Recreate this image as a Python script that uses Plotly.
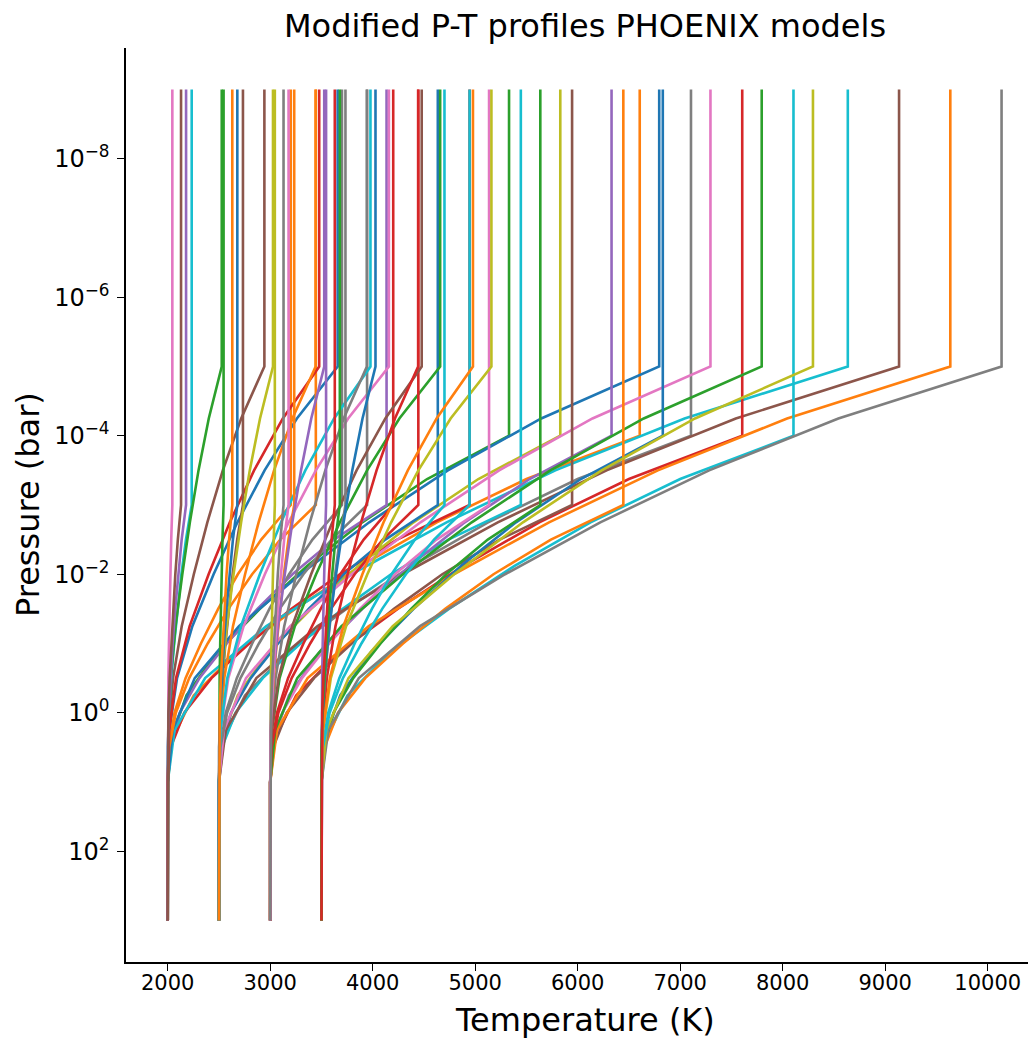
import plotly.graph_objects as go

# ---- data ----
T_BASE = [2000, 2500, 3000, 3500]          # deep isothermal temperatures (K)
# one entry per modification (same dT / top pressure for every base temperature)
DELTA_T = [1658, 4605, 3330, 2945, 2135, 943, 45, 1200, 234, 6635, 4795, 1445, 527, 1478, 179, 130]
LOGP_TOP = [-5, -4, -4, -3, -3, -5, -3, -3, -3, -5, -5, -3, -5, -5, -3, -3]
COLOR_2000 = [0, 1, 2, 3, 4, 5, 6, 1, 9, 9, 0, 1, 2, 3, 4, 5]
FAMILY_SHIFT = [0, 6, 2, 8]
LOGP_DEEP = 3.0     # bottom of profiles (1e3 bar)
LOGP_BASE = 1.0     # where the heating starts (10 bar)
LOGP_UPPER = -9.0   # top of profiles (1e-9 bar)
# normalized heating shape read from the profiles (fraction of dT vs fraction of log-P span)
SHAPE_S = [0, 0.125, 0.25, 0.375, 0.5, 0.625, 0.75, 0.875, 1.0]
SHAPE_F = [0, 0.01, 0.055, 0.145, 0.27, 0.41, 0.57, 0.76, 1.0]

X_TICKS = [2000, 3000, 4000, 5000, 6000, 7000, 8000, 9000, 10000]
X_TICKTEXT = ["2000", "3000", "4000", "5000", "6000", "7000", "8000", "9000", "10000"]
Y_TICKS = [1e-8, 1e-6, 1e-4, 1e-2, 1e0, 1e2]
Y_EXP = ["\u22128", "\u22126", "\u22124", "\u22122", "0", "2"]

PALETTE = ["#1f77b4", "#ff7f0e", "#2ca02c", "#d62728", "#9467bd",
           "#8c564b", "#e377c2", "#7f7f7f", "#bcbd22", "#17becf"]

fig = go.Figure()
for t, T0 in enumerate(T_BASE):
    for c, dT in enumerate(DELTA_T):
        ptop = LOGP_TOP[c]
        xs = [T0, T0]
        ys = [10 ** LOGP_DEEP, 10 ** LOGP_BASE]
        for s, f in zip(SHAPE_S[1:], SHAPE_F[1:]):
            lp = LOGP_BASE + s * (ptop - LOGP_BASE)
            xs.append(T0 + dT * f)
            ys.append(10 ** lp)
        xs.append(T0 + dT)
        ys.append(10 ** LOGP_UPPER)
        col = PALETTE[(COLOR_2000[c] + FAMILY_SHIFT[t]) % 10]
        fig.add_trace(go.Scatter(x=xs, y=ys, mode="lines",
                                 line=dict(color=col, width=2.6),
                                 showlegend=False, hoverinfo="skip"))

# the page body adds an 8 px offset, so the figure is 8 px smaller and shifted
W, H = 1028, 1034
FONT = "DejaVu Sans, Verdana, sans-serif"
y_ticktext = ["10<sup>" + e + "</sup>" for e in Y_EXP]
fig.update_layout(
    width=W, height=H,
    margin=dict(l=118, r=0, t=40, b=80, autoexpand=False),
    paper_bgcolor="white", plot_bgcolor="white",
    font=dict(family=FONT, color="black"),
    title=dict(text="Modified P-T profiles PHOENIX models",
               x=577 / W, xref="container", xanchor="center",
               y=1 - 18 / H, yref="container", yanchor="middle",
               automargin=False,
               font=dict(size=32, family=FONT, color="black")),
    showlegend=False,
)
fig.update_xaxes(range=[1593, 10471], tickvals=X_TICKS, ticktext=X_TICKTEXT,
                 automargin=False, ticklabelstandoff=-6,
                 ticks="outside", ticklen=7, tickwidth=1.3, tickcolor="black",
                 showline=True, linecolor="black", linewidth=1.5,
                 showgrid=False, zeroline=False,
                 tickfont=dict(size=21, family=FONT, color="black"))
fig.update_yaxes(type="log", range=[3.6, -9.6], tickvals=Y_TICKS, ticktext=y_ticktext,
                 automargin=False, ticklabelstandoff=3,
                 ticks="outside", ticklen=7, tickwidth=1.3, tickcolor="black",
                 showline=True, linecolor="black", linewidth=1.5,
                 showgrid=False, zeroline=False,
                 tickfont=dict(size=24, family=FONT, color="black"))
fig.add_annotation(text="Temperature (K)", xref="paper", yref="paper",
                   x=(577 - 118) / 910, y=0, yshift=-58, xanchor="center", yanchor="middle",
                   showarrow=False, font=dict(size=32, family=FONT, color="black"))
fig.add_annotation(text="Pressure (bar)", xref="paper", yref="paper",
                   x=0, y=0.5, xshift=-98, textangle=-90, xanchor="center", yanchor="middle",
                   showarrow=False, font=dict(size=32, family=FONT, color="black"))

fig.write_html("out.html")
